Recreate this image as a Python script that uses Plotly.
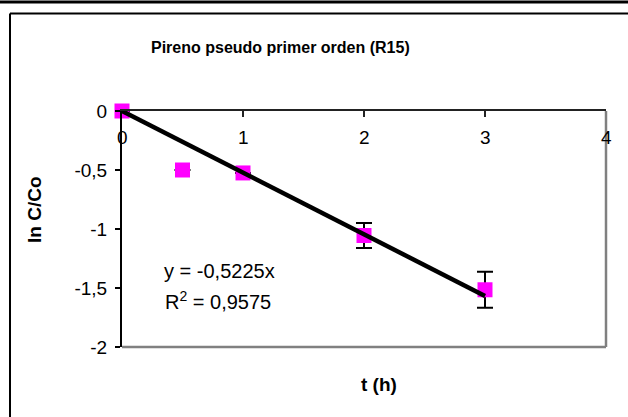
import plotly.graph_objects as go

# Kinetic data: pyrene, pseudo-first-order (R15)
t_h = [0, 0.5, 1, 2, 3]
ln_c_co = [0.0, -0.50, -0.525, -1.055, -1.515]
err = [None, None, None, 0.105, 0.153]

slope = -0.5225
r2 = "0,9575"
fit_t = [0, 3]

x_ticks = [0, 1, 2, 3, 4]
x_ticktext = ["0", "1", "2", "3", "4"]
y_ticks = [0, -0.5, -1, -1.5, -2]
y_ticktext = ["0", "-0,5", "-1", "-1,5", "-2"]

title_text = "Pireno pseudo primer orden (R15)"
x_title = "t (h)"
y_title = "ln C/Co"

W, H = 628, 417
ML, MR, MT, MB = 122, 22, 111, 70
PW, PH = W - ML - MR, H - MT - MB
FONT = "Liberation Sans, Arial, sans-serif"


def px(x):
    return (x - ML) / PW


def py(y):
    return (H - MB - y) / PH


fig = go.Figure()

fig.add_trace(go.Scatter(
    x=t_h, y=ln_c_co, mode="markers",
    marker=dict(symbol="square", size=15, color="#ff00ff", line=dict(width=0)),
    error_y=dict(type="data", array=err, visible=True, color="black",
                 thickness=2, width=8),
    cliponaxis=False, showlegend=False,
))

fig.add_trace(go.Scatter(
    x=fit_t, y=[slope * v for v in fit_t], mode="lines",
    line=dict(color="black", width=4.5),
    cliponaxis=False, showlegend=False,
))

# the t axis runs along y = 0 (top edge); its labels sit just below it
fig.update_xaxes(
    range=[0, 4], side="top", showline=True, linecolor="#222", linewidth=2,
    ticks="inside", ticklen=6, tickwidth=1.5, tickcolor="#222",
    tickvals=x_ticks, showticklabels=False,
    showgrid=False, zeroline=False,
)
fig.update_yaxes(
    range=[-2, 0], showline=True, linecolor="black", linewidth=2,
    ticks="outside", ticklen=5, tickwidth=1.5, tickcolor="black",
    tickvals=y_ticks, ticktext=y_ticktext, ticklabelstandoff=4,
    showgrid=False, zeroline=False,
    tickfont=dict(family=FONT, size=19, color="black"),
)

shapes = [
    # plot-area frame (right and bottom)
    dict(type="line", xref="paper", yref="paper", x0=1, x1=1, y0=0, y1=1,
         line=dict(color="#808080", width=2.5)),
    dict(type="line", xref="paper", yref="paper", x0=0, x1=1, y0=0, y1=0,
         line=dict(color="#808080", width=2.5)),
    # chart-area border
    dict(type="line", xref="paper", yref="paper", x0=px(10), x1=px(10),
         y0=py(13.5), y1=py(420), line=dict(color="black", width=2)),
    dict(type="line", xref="paper", yref="paper", x0=px(10), x1=px(630),
         y0=py(13.5), y1=py(13.5), line=dict(color="black", width=2)),
    # page rule above the chart
    dict(type="line", xref="paper", yref="paper", x0=px(-2), x1=px(630),
         y0=py(2), y1=py(2), line=dict(color="black", width=3)),
]

annotations = [
    dict(text=lbl, x=val, y=py(137), xref="x", yref="paper",
         showarrow=False, xanchor="center", yanchor="middle",
         font=dict(family=FONT, size=19, color="black"))
    for val, lbl in zip(x_ticks, x_ticktext)
]
annotations += [
    dict(text=f"<b>{title_text}</b>", x=px(280), y=py(47), xref="paper",
         yref="paper", showarrow=False, xanchor="center", yanchor="middle",
         font=dict(family=FONT, size=16, color="black")),
    dict(text=f"<b>{x_title}</b>", x=px(379), y=py(384), xref="paper",
         yref="paper", showarrow=False, xanchor="center", yanchor="middle",
         font=dict(family=FONT, size=19, color="black")),
    dict(text=f"<b>{y_title}</b>", x=px(34), y=py(210), xref="paper",
         yref="paper", showarrow=False, xanchor="center", yanchor="middle",
         textangle=-90, font=dict(family=FONT, size=19, color="black")),
    dict(text=f"y = {str(slope).replace('.', ',')}x", x=px(162), y=py(271),
         xref="paper", yref="paper", showarrow=False, xanchor="left",
         yanchor="middle", font=dict(family=FONT, size=20, color="black")),
    dict(text=f"R<sup>2</sup> = {r2}", x=px(163), y=py(300),
         xref="paper", yref="paper", showarrow=False, xanchor="left",
         yanchor="middle", font=dict(family=FONT, size=20, color="black")),
]

fig.update_layout(
    width=W, height=H,
    margin=dict(l=ML, r=MR, t=MT, b=MB),
    paper_bgcolor="white", plot_bgcolor="white",
    shapes=shapes, annotations=annotations,
    separators=", ",
)

fig.write_html("out.html")
